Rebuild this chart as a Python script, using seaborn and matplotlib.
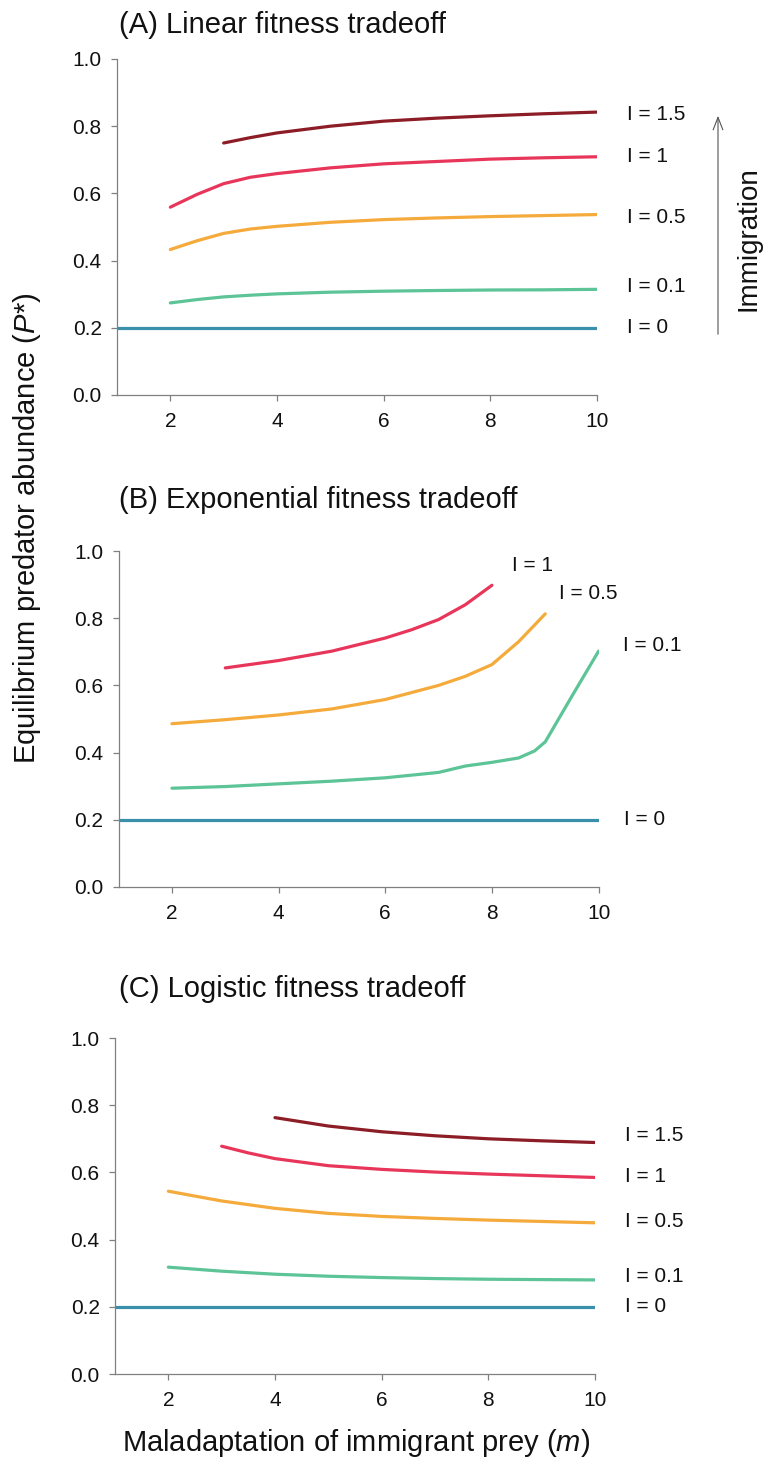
import numpy as np
import pandas as pd
import matplotlib
matplotlib.use("Agg")
import matplotlib.pyplot as plt
import seaborn as sns

# ---------------- data ----------------
levels = ["I = 0", "I = 0.1", "I = 0.5", "I = 1", "I = 1.5"]
colors = ["#3a90ab", "#5cc497", "#f5aa3c", "#e8365b", "#8c1c25"]

# Panel A: linear tradeoff
A_m_I0 = [1, 10]
A_P_I0 = [0.2, 0.2]
A_m_I01 = [2, 2.5, 3, 3.5, 4, 5, 6, 7, 8, 9, 10]
A_P_I01 = [0.274, 0.284, 0.292, 0.297, 0.301, 0.306, 0.309, 0.311, 0.3125, 0.313, 0.3145]
A_m_I05 = [2, 2.5, 3, 3.5, 4, 5, 6, 7, 8, 9, 10]
A_P_I05 = [0.433, 0.459, 0.481, 0.494, 0.502, 0.514, 0.522, 0.527, 0.531, 0.534, 0.537]
A_m_I1 = [2, 2.5, 3, 3.5, 4, 5, 6, 7, 8, 9, 10]
A_P_I1 = [0.559, 0.597, 0.629, 0.648, 0.659, 0.676, 0.688, 0.695, 0.702, 0.706, 0.709]
A_m_I15 = [3, 3.5, 4, 5, 6, 7, 8, 9, 10]
A_P_I15 = [0.750, 0.766, 0.780, 0.800, 0.815, 0.824, 0.831, 0.837, 0.842]

# Panel B: exponential tradeoff
B_m_I0 = [1, 10]
B_P_I0 = [0.2, 0.2]
B_m_I01 = [2, 3, 4, 5, 6, 7, 7.5, 8, 8.5, 8.8, 9, 9.5, 10]
B_P_I01 = [0.294, 0.299, 0.307, 0.315, 0.325, 0.341, 0.360, 0.371, 0.384, 0.405, 0.432, 0.568, 0.702]
B_m_I05 = [2, 3, 4, 5, 6, 7, 7.5, 8, 8.5, 9]
B_P_I05 = [0.486, 0.498, 0.512, 0.530, 0.558, 0.600, 0.627, 0.662, 0.730, 0.813]
B_m_I1 = [3, 4, 5, 6, 6.5, 7, 7.5, 8]
B_P_I1 = [0.652, 0.674, 0.702, 0.741, 0.766, 0.796, 0.840, 0.898]

# Panel C: logistic tradeoff
C_m_I0 = [1, 10]
C_P_I0 = [0.2, 0.2]
C_m_I01 = [2, 3, 4, 5, 6, 7, 8, 9, 10]
C_P_I01 = [0.318, 0.306, 0.297, 0.291, 0.287, 0.284, 0.282, 0.281, 0.280]
C_m_I05 = [2, 3, 4, 5, 6, 7, 8, 9, 10]
C_P_I05 = [0.544, 0.515, 0.493, 0.478, 0.469, 0.463, 0.458, 0.454, 0.450]
C_m_I1 = [3, 3.5, 4, 5, 6, 7, 8, 9, 10]
C_P_I1 = [0.678, 0.658, 0.641, 0.620, 0.609, 0.601, 0.595, 0.590, 0.585]
C_m_I15 = [4, 5, 6, 7, 8, 9, 10]
C_P_I15 = [0.763, 0.738, 0.721, 0.709, 0.700, 0.694, 0.689]

titles = ["(A) Linear fitness tradeoff", "(B) Exponential fitness tradeoff",
          "(C) Logistic fitness tradeoff"]
x_ticks = [2, 4, 6, 8, 10]
y_ticks = [0.0, 0.2, 0.4, 0.6, 0.8, 1.0]

# label positions (data coords) for each panel
A_lab_x = [10.56, 10.56, 10.56, 10.56, 10.56]
A_lab_y = [0.200, 0.323, 0.528, 0.710, 0.834]
B_lab_x = [10.47, 10.46, 9.25, 8.37]
B_lab_y = [0.200, 0.720, 0.874, 0.958]
C_lab_x = [10.56, 10.56, 10.56, 10.56, 10.56]
C_lab_y = [0.200, 0.289, 0.453, 0.587, 0.709]


def frame(pairs):
    parts = []
    for lab, (m, p) in pairs.items():
        parts.append(pd.DataFrame({"m": m, "P": p, "I": lab}))
    return pd.concat(parts, ignore_index=True)


dfA = frame({"I = 0": (A_m_I0, A_P_I0), "I = 0.1": (A_m_I01, A_P_I01),
             "I = 0.5": (A_m_I05, A_P_I05), "I = 1": (A_m_I1, A_P_I1),
             "I = 1.5": (A_m_I15, A_P_I15)})
dfB = frame({"I = 0": (B_m_I0, B_P_I0), "I = 0.1": (B_m_I01, B_P_I01),
             "I = 0.5": (B_m_I05, B_P_I05), "I = 1": (B_m_I1, B_P_I1)})
dfC = frame({"I = 0": (C_m_I0, C_P_I0), "I = 0.1": (C_m_I01, C_P_I01),
             "I = 0.5": (C_m_I05, C_P_I05), "I = 1": (C_m_I1, C_P_I1),
             "I = 1.5": (C_m_I15, C_P_I15)})

# ---------------- style ----------------
sns.set_style("ticks")
plt.rcParams["font.family"] = ["Liberation Sans", "DejaVu Sans"]
plt.rcParams["mathtext.fontset"] = "custom"
plt.rcParams["mathtext.it"] = "Liberation Sans:italic"
plt.rcParams["mathtext.rm"] = "Liberation Sans"

palette = dict(zip(levels, colors))
W, H = 763, 1458
fig = plt.figure(figsize=(W / 100, H / 100), dpi=100)

# axes rectangles in pixels: left, top, right, bottom
rects = [(117, 59, 597, 395), (118.6, 551, 598.6, 887), (115, 1038, 595, 1374)]
title_y = [25, 500, 989]
title_x = [119, 119, 119]

spine_col = "#808080"
panels = [(dfA, A_lab_x, A_lab_y), (dfB, B_lab_x, B_lab_y), (dfC, C_lab_x, C_lab_y)]
for i, ((l, t, r, b), (df, lx, ly)) in enumerate(zip(rects, panels)):
    ax = fig.add_axes([l / W, 1 - b / H, (r - l) / W, (b - t) / H])
    sns.lineplot(data=df, x="m", y="P", hue="I", palette=palette,
                 estimator=None, sort=False, legend=False, lw=2.3, ax=ax)
    for ln in ax.get_lines():
        ln.set_solid_joinstyle("round")
        ln.set_solid_capstyle("round")
    ax.set_xlim(1, 10)
    ax.set_ylim(0, 1)
    ax.set_xticks(x_ticks)
    ax.set_yticks(y_ticks)
    ax.set_yticklabels([f"{v:.1f}" for v in y_ticks])
    ax.set_xlabel("")
    ax.set_ylabel("")
    for s in ["top", "right"]:
        ax.spines[s].set_visible(False)
    for s in ["left", "bottom"]:
        ax.spines[s].set_color(spine_col)
        ax.spines[s].set_linewidth(0.9)
    ax.tick_params(axis="both", direction="out", length=4, width=0.9,
                   color=spine_col, labelsize=15, labelcolor="#111111")
    ax.tick_params(axis="y", pad=7)
    ax.tick_params(axis="x", pad=8)
    labs = levels[:len(lx)]
    for lab, xx, yy in zip(labs, lx, ly):
        ax.text(xx, yy, lab, ha="left", va="center", fontsize=15,
                color="#111111", clip_on=False)
    fig.text(title_x[i] / W, 1 - title_y[i] / H, titles[i], ha="left",
             va="center", fontsize=21, color="#111111")

# shared axis labels
fig.text(27 / W, 1 - 528 / H, "Equilibrium predator abundance ($P$*)",
         rotation=90, ha="center", va="center", fontsize=21, color="#111111")
fig.text(356 / W, 1 - 1443 / H, "Maladaptation of immigrant prey ($m$)",
         ha="center", va="center", fontsize=21, color="#111111")

# immigration arrow
fig.add_artist(matplotlib.patches.FancyArrowPatch(
    (718 / W, 1 - 337 / H), (718 / W, 1 - 113 / H),
    transform=fig.transFigure, arrowstyle="->,head_length=9,head_width=3.5",
    color="#555555", lw=0.8))
fig.text(749 / W, 1 - 239 / H, "Immigration", rotation=90, ha="center",
         va="center", fontsize=20, color="#111111")

fig.savefig("out.png", dpi=100)
